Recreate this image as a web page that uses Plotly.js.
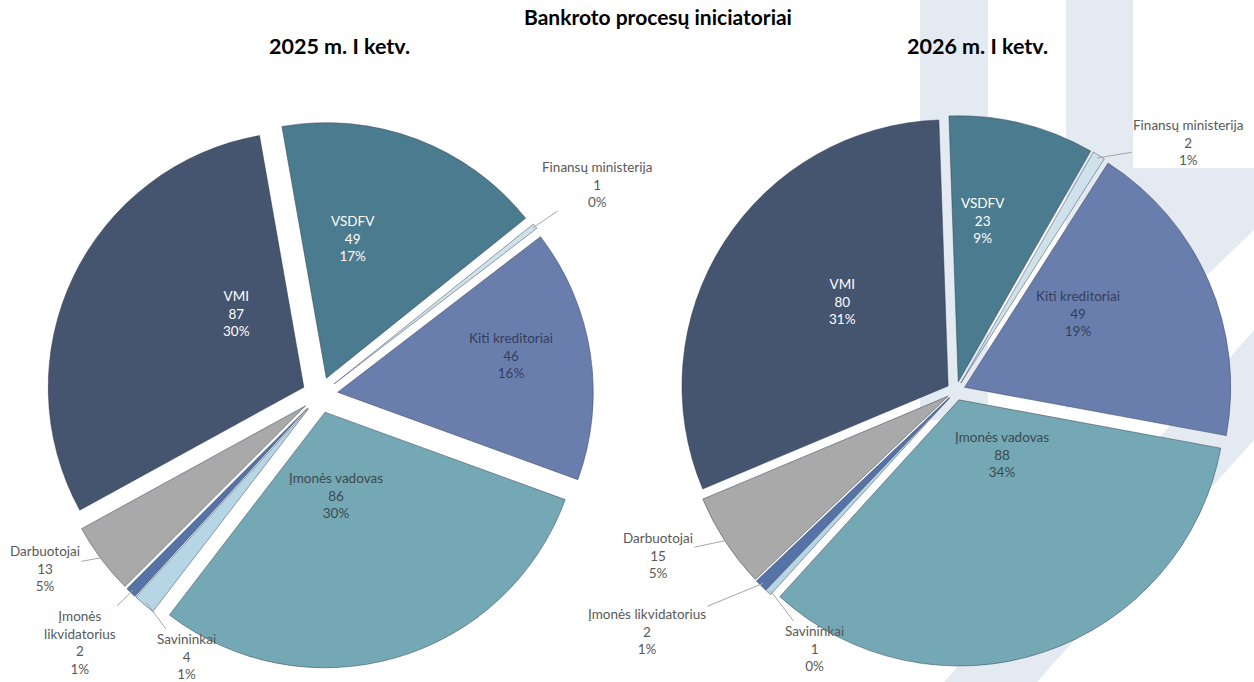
<!DOCTYPE html>
<html>
<head>
<meta charset="utf-8">
<script src="https://cdn.plot.ly/plotly-3.0.1.min.js"></script>
<style>html,body{margin:0;padding:0;background:#fff;}#chart{width:1254px;height:682px;}</style>
</head>
<body>
<div id="chart"></div>
<script>
// ---- data ----
const categories = ['VSDFV', 'Finansų ministerija', 'Kiti kreditoriai', 'Įmonės vadovas', 'Savininkai', 'Įmonės likvidatorius', 'Darbuotojai', 'VMI'];
const values2025 = [49, 1, 46, 86, 4, 2, 13, 87];
const values2026 = [23, 2, 49, 88, 1, 2, 15, 80];
const pct2025 = ['17%', '0%', '16%', '30%', '1%', '1%', '5%', '30%'];
const pct2026 = ['9%', '1%', '19%', '34%', '0%', '1%', '5%', '31%'];
const mainTitle = 'Bankroto procesų iniciatoriai';
const subTitles = ['2025 m. I ketv.', '2026 m. I ketv.'];

// ---- style ----
const W = 1254, H = 682;
const colors = ['#4b7b8e', '#cfe1ea', '#6a7eae', '#74a8b4', '#b6d6e6', '#5673a8', '#a9a9a9', '#45546f'];
const labelColors = ['#ffffff', '#595959', '#33405c', '#3c4a50', '#595959', '#595959', '#595959', '#ffffff'];
const isInside = [true, false, true, true, false, false, false, true];
const labelFont = 'Lato, "Open Sans", sans-serif';

// label anchor positions (pixels) for each slice index
const pies = [
  {values: values2025, pct: pct2025, cx: 320, cy: 395, size: 547, pull: 0.07, rot: -10,
   names: {5: 'Įmonės<br>likvidatorius'},
   labelPos: {0: [353, 238], 2: [511, 355], 3: [336, 495], 7: [237, 313],
              1: [597, 184], 4: [186, 656], 5: [80, 642], 6: [45, 568]}},
  {values: values2026, pct: pct2026, cx: 956, cy: 391, size: 551, pull: 0.035, rot: -2,
   names: {},
   labelPos: {0: [983, 221], 2: [1078, 313], 3: [1002, 454], 7: [842, 301],
              1: [1188, 143], 4: [814, 648], 5: [647, 631], 6: [658, 555]}}
];

const traces = [];
const annotations = [];
pies.forEach((p, k) => {
  traces.push({
    type: 'pie',
    values: p.values,
    labels: categories,
    customdata: p.pct,
    sort: false,
    direction: 'clockwise',
    rotation: p.rot,
    pull: p.values.map(() => p.pull),
    marker: {colors: colors, line: {color: 'rgba(40,50,70,0.45)', width: 1}},
    textinfo: 'none',
    textposition: 'none',
    hoverinfo: 'label+value+percent',
    showlegend: false,
    domain: {
      x: [(p.cx - p.size / 2) / W, (p.cx + p.size / 2) / W],
      y: [1 - (p.cy + p.size / 2) / H, 1 - (p.cy - p.size / 2) / H]
    }
  });
  const total = p.values.reduce((a, b) => a + b, 0);
  const R = p.size / 2 / (1 + p.pull);
  let acc = 0;
  p.values.forEach((v, i) => {
    const a0 = p.rot + acc / total * 360;
    acc += v;
    const a1 = p.rot + acc / total * 360;
    const pos = p.labelPos[i];
    const name = p.names[i] || categories[i];
    const text = name + '<br>' + v + '<br>' + p.pct[i];
    const font = {family: labelFont, size: 13.5, color: labelColors[i]};
    if (isInside[i]) {
      annotations.push({
        xref: 'paper', yref: 'paper', x: pos[0] / W, y: 1 - pos[1] / H,
        xanchor: 'center', yanchor: 'middle', text: text, showarrow: false, font: font, align: 'center'
      });
      return;
    }
    // leader line tip derived from the slice's angular position
    const mid = (a0 + a1) / 2 * Math.PI / 180;
    const d = R * (1 + p.pull) - 3;
    const tx = p.cx + d * Math.sin(mid);
    const ty = p.cy - d * Math.cos(mid);
    annotations.push({
      xref: 'paper', yref: 'paper',
      x: tx / W, y: 1 - ty / H,
      ax: pos[0] - tx, ay: pos[1] - ty,
      text: text,
      showarrow: true, arrowhead: 0, arrowwidth: 1, arrowcolor: '#a6a6a6',
      font: font, align: 'center'
    });
  });
});

subTitles.forEach((t, k) => {
  annotations.push({
    xref: 'paper', yref: 'paper', x: [339, 977][k] / W, y: 1 - 46 / H, xanchor: 'center', yanchor: 'middle',
    text: '<b>' + t + '</b>', showarrow: false,
    font: {family: labelFont, size: 21.5, color: '#000000'}
  });
});

// light watermark shapes in the background
const wm = '#e4eaf2';
const shapes = [
  {type: 'rect', xref: 'paper', yref: 'paper', x0: 920 / W, x1: 988 / W, y0: 1 - 420 / H, y1: 1, fillcolor: wm, line: {width: 0}, layer: 'below'},
  {type: 'path', xref: 'paper', yref: 'paper', layer: 'below', fillcolor: wm, line: {width: 0},
   path: 'M ' + 1066 / W + ' 1 L ' + 1133 / W + ' 1 L ' + 1133 / W + ' ' + (1 - 168 / H) + ' L 1 ' + (1 - 168 / H) +
         ' L 1 ' + (1 - 230 / H) + ' L ' + 1066 / W + ' ' + (1 - 410 / H) + ' Z'},
  {type: 'path', xref: 'paper', yref: 'paper', layer: 'below', fillcolor: wm, line: {width: 0},
   path: 'M 1 ' + (1 - 330 / H) + ' L 1 ' + (1 - 440 / H) + ' L ' + 1037 / W + ' 0 L ' + 944 / W + ' 0 Z'}
];

const layout = {
  width: W, height: H,
  margin: {l: 0, r: 0, t: 0, b: 0},
  paper_bgcolor: '#ffffff',
  title: {text: '<b>' + mainTitle + '</b>', x: 658 / W, xanchor: 'center', y: 1 - 18 / H, yanchor: 'middle',
          font: {family: labelFont, size: 21, color: '#000000'}},
  annotations: annotations,
  shapes: shapes
};

Plotly.newPlot('chart', traces, layout, {displayModeBar: false, staticPlot: true});
</script>
</body>
</html>
